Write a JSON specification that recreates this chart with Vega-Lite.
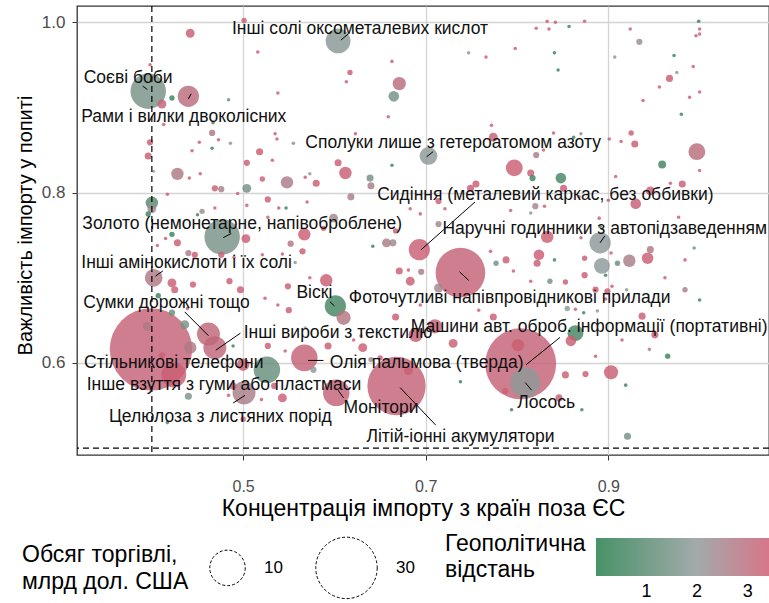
{
 "$schema": "https://vega.github.io/schema/vega-lite/v6.json",
 "width": 692, "height": 449,
 "autosize": {"type": "none"},
 "padding": {"left": 77, "top": 6, "right": 0, "bottom": 148},
 "background": "white",
 "config": {
  "font": "Liberation Sans",
  "view": {"stroke": "#333333", "strokeWidth": 1.3},
  "axis": {"domain": false, "grid": true, "gridColor": "#d4d4d4", "gridWidth": 1.3, "tickColor": "#333333", "tickSize": 5, "labelColor": "#4d4d4d", "labelFontSize": 16, "titleFontSize": 20, "titleFontWeight": "normal", "titleColor": "#000000", "titleFont": "Liberation Sans", "labelFont": "Liberation Sans"}
 },
 "datasets": {
  "pts": [
   {"x":0.604,"y":0.978,"v":4.9,"g":1.9},{"x":0.396,"y":0.919,"v":10,"g":1.6},{"x":0.440,"y":0.913,"v":3.6,"g":3.0},{"x":0.477,"y":0.748,"v":10,"g":1.6},{"x":0.703,"y":0.843,"v":2.5,"g":2.0},{"x":0.693,"y":0.733,"v":3.6,"g":3.3},{"x":0.891,"y":0.741,"v":3.6,"g":2.0},{"x":0.738,"y":0.706,"v":19.6,"g":3.2},{"x":0.804,"y":0.599,"v":40,"g":3.2},{"x":0.809,"y":0.577,"v":7.2,"g":2.0},{"x":0.668,"y":0.573,"v":27,"g":3.2},{"x":0.602,"y":0.565,"v":5.6,"g":3.2},{"x":0.567,"y":0.606,"v":5.6,"g":3.2},{"x":0.601,"y":0.667,"v":3.6,"g":0.7},{"x":0.469,"y":0.618,"v":4.2,"g":3.1},{"x":0.462,"y":0.634,"v":4.2,"g":3.1},{"x":0.399,"y":0.616,"v":54,"g":3.2},{"x":0.501,"y":0.565,"v":4.2,"g":2.6},{"x":0.402,"y":0.700,"v":2.5,"g":2.7},{"x":0.424,"y":0.586,"v":4.9,"g":3.3},
   {"x":0.501,"y":1.002,"v":0.23,"g":3.3},{"x":0.442,"y":0.987,"v":0.63,"g":3.3},{"x":0.516,"y":0.965,"v":0.1,"g":3.3},{"x":0.398,"y":0.950,"v":0.1,"g":3.3},{"x":0.411,"y":0.904,"v":0.63,"g":3.2},{"x":0.422,"y":0.911,"v":0.23,"g":0.5},{"x":0.484,"y":0.909,"v":0.1,"g":1.4},{"x":0.538,"y":0.917,"v":0.1,"g":3.3},{"x":0.413,"y":0.880,"v":0.1,"g":3.3},{"x":0.467,"y":0.882,"v":0.1,"g":0.5},{"x":0.466,"y":0.870,"v":0.31,"g":2.8},{"x":0.473,"y":0.862,"v":0.1,"g":3.3},{"x":0.452,"y":0.859,"v":0.1,"g":3.3},{"x":0.486,"y":0.858,"v":0.1,"g":1.9},{"x":0.466,"y":0.852,"v":0.1,"g":0.5},{"x":0.535,"y":0.869,"v":0.1,"g":3.3},{"x":0.537,"y":0.863,"v":0.1,"g":3.3},{"x":0.555,"y":0.858,"v":0.1,"g":2.5},{"x":0.398,"y":0.859,"v":0.31,"g":3.3},{"x":0.396,"y":0.843,"v":0.4,"g":3.3},{"x":0.444,"y":0.849,"v":0.1,"g":3.3},{"x":0.518,"y":0.848,"v":0.4,"g":3.3},{"x":0.504,"y":0.835,"v":0.31,"g":3.3},{"x":0.532,"y":0.838,"v":0.1,"g":3.3},{"x":0.402,"y":0.825,"v":0.06,"g":1.9},{"x":0.428,"y":0.822,"v":1.23,"g":2.7},{"x":0.441,"y":0.817,"v":0.1,"g":3.3},{"x":0.453,"y":0.822,"v":0.1,"g":3.3},{"x":0.521,"y":0.816,"v":0.23,"g":3.3},{"x":0.548,"y":0.812,"v":1.23,"g":2.6},{"x":0.568,"y":0.818,"v":0.1,"g":3.3},{"x":0.504,"y":0.805,"v":0.63,"g":1.5},{"x":0.469,"y":0.805,"v":0.31,"g":3.3},{"x":0.476,"y":0.804,"v":0.31,"g":2.5},{"x":0.494,"y":0.799,"v":0.1,"g":3.3},{"x":0.527,"y":0.792,"v":0.31,"g":3.3},{"x":0.417,"y":0.798,"v":0.1,"g":3.3},{"x":0.400,"y":0.788,"v":1.23,"g":1.0},{"x":0.400,"y":0.781,"v":0.63,"g":2.3},{"x":0.396,"y":0.775,"v":0.23,"g":0.5},{"x":0.504,"y":0.785,"v":0.1,"g":3.3},{"x":0.469,"y":0.782,"v":0.1,"g":3.3},{"x":0.455,"y":0.778,"v":0.23,"g":2.3},{"x":0.450,"y":0.774,"v":0.1,"g":0.5},{"x":0.539,"y":0.782,"v":0.1,"g":3.3},{"x":0.547,"y":0.782,"v":0.1,"g":0.5},{"x":0.527,"y":0.771,"v":0.1,"g":3.3},{"x":0.570,"y":0.789,"v":0.1,"g":3.3},{"x":0.567,"y":0.751,"v":1.23,"g":3.3},
   {"x":0.663,"y":0.954,"v":0.1,"g":3.3},{"x":0.617,"y":0.941,"v":0.23,"g":3.3},{"x":0.613,"y":0.930,"v":0.1,"g":3.3},{"x":0.671,"y":0.928,"v":1.4,"g":3.0},{"x":0.665,"y":0.913,"v":0.9,"g":1.5},{"x":0.659,"y":0.889,"v":0.1,"g":3.3},{"x":0.821,"y":0.993,"v":0.1,"g":3.3},{"x":0.798,"y":0.969,"v":0.1,"g":3.3},{"x":0.766,"y":0.959,"v":0.1,"g":3.3},{"x":0.747,"y":0.964,"v":0.1,"g":2.0},{"x":0.772,"y":0.879,"v":0.1,"g":3.3},{"x":0.774,"y":0.865,"v":0.63,"g":3.2},{"x":0.623,"y":0.869,"v":0.1,"g":3.3},{"x":0.604,"y":0.835,"v":0.4,"g":3.3},{"x":0.612,"y":0.823,"v":1.23,"g":3.3},{"x":0.663,"y":0.832,"v":0.1,"g":0.5},{"x":0.573,"y":0.822,"v":0.1,"g":2.0},{"x":0.580,"y":0.811,"v":0.4,"g":3.3},{"x":0.639,"y":0.817,"v":0.4,"g":1.5},{"x":0.640,"y":0.808,"v":0.4,"g":2.6},{"x":0.797,"y":0.829,"v":2.26,"g":3.3},{"x":0.815,"y":0.823,"v":0.4,"g":3.3},{"x":0.817,"y":0.817,"v":0.31,"g":0.5},{"x":0.821,"y":0.844,"v":0.31,"g":2.6},{"x":0.755,"y":0.810,"v":0.4,"g":3.3},{"x":0.749,"y":0.805,"v":0.4,"g":3.3},{"x":0.618,"y":0.795,"v":0.4,"g":2.6},{"x":0.714,"y":0.790,"v":0.31,"g":3.3},{"x":0.683,"y":0.781,"v":0.1,"g":3.3},{"x":0.694,"y":0.775,"v":0.1,"g":3.3},{"x":0.721,"y":0.781,"v":0.1,"g":3.3},{"x":0.599,"y":0.770,"v":0.63,"g":2.4},{"x":0.588,"y":0.758,"v":0.23,"g":3.3},{"x":0.667,"y":0.755,"v":0.23,"g":3.3},{"x":0.714,"y":0.763,"v":0.31,"g":2.4},{"x":0.820,"y":0.784,"v":0.31,"g":2.5},{"x":0.815,"y":0.776,"v":0.1,"g":2.0},{"x":0.793,"y":0.779,"v":0.1,"g":3.3},
   {"x":0.833,"y":1.001,"v":0.1,"g":3.3},{"x":0.842,"y":1.000,"v":0.1,"g":3.3},{"x":0.835,"y":0.992,"v":0.1,"g":3.3},{"x":0.857,"y":0.995,"v":0.1,"g":0.5},{"x":0.874,"y":1.001,"v":0.1,"g":3.3},{"x":0.841,"y":0.964,"v":0.1,"g":0.5},{"x":0.845,"y":0.944,"v":0.1,"g":0.5},{"x":0.924,"y":0.992,"v":0.1,"g":3.3},{"x":0.934,"y":0.977,"v":0.31,"g":2.3},{"x":0.907,"y":0.959,"v":0.1,"g":2.0},{"x":0.999,"y":1.001,"v":0.1,"g":0.5},{"x":1.000,"y":0.992,"v":0.1,"g":3.3},{"x":1.000,"y":0.986,"v":0.1,"g":3.3},{"x":0.996,"y":0.984,"v":0.1,"g":3.3},{"x":0.972,"y":0.961,"v":0.1,"g":0.5},{"x":0.993,"y":0.948,"v":0.1,"g":3.3},{"x":0.975,"y":0.941,"v":0.1,"g":2.0},{"x":0.967,"y":0.934,"v":0.4,"g":3.3},{"x":0.956,"y":0.924,"v":0.1,"g":3.3},{"x":0.938,"y":0.908,"v":0.1,"g":3.3},{"x":0.989,"y":0.912,"v":0.1,"g":3.3},{"x":1.000,"y":0.918,"v":0.1,"g":3.3},{"x":0.980,"y":0.892,"v":0.1,"g":0.5},{"x":0.840,"y":0.870,"v":0.1,"g":3.3},{"x":0.870,"y":0.869,"v":0.1,"g":2.4},{"x":0.862,"y":0.865,"v":0.1,"g":0.5},{"x":0.901,"y":0.863,"v":0.1,"g":3.3},{"x":0.914,"y":0.860,"v":0.1,"g":3.3},{"x":0.925,"y":0.870,"v":0.23,"g":3.3},{"x":0.929,"y":0.857,"v":0.4,"g":3.3},{"x":0.997,"y":0.848,"v":2.26,"g":3.0},{"x":1.000,"y":0.826,"v":0.1,"g":3.3},{"x":0.959,"y":0.833,"v":0.5,"g":0.6},{"x":0.829,"y":0.850,"v":0.1,"g":3.3},{"x":0.848,"y":0.817,"v":0.9,"g":0.7},{"x":0.851,"y":0.805,"v":0.4,"g":3.3},{"x":0.908,"y":0.819,"v":0.1,"g":3.3},{"x":0.968,"y":0.811,"v":0.1,"g":3.3},{"x":0.981,"y":0.810,"v":0.4,"g":3.3},{"x":0.946,"y":0.802,"v":0.63,"g":3.3},{"x":0.930,"y":0.787,"v":0.9,"g":3.3},{"x":0.830,"y":0.784,"v":0.1,"g":3.3},{"x":0.868,"y":0.795,"v":0.1,"g":3.3},{"x":0.900,"y":0.791,"v":0.1,"g":3.3},{"x":0.890,"y":0.770,"v":0.1,"g":3.3},{"x":0.977,"y":0.771,"v":0.1,"g":3.3},{"x":0.891,"y":0.760,"v":0.1,"g":0.5},
   {"x":0.422,"y":0.751,"v":0.23,"g":0.5},{"x":0.428,"y":0.741,"v":0.4,"g":3.3},{"x":0.415,"y":0.746,"v":0.1,"g":3.3},{"x":0.406,"y":0.738,"v":0.1,"g":3.3},{"x":0.503,"y":0.746,"v":0.63,"g":3.3},{"x":0.440,"y":0.729,"v":0.31,"g":2.6},{"x":0.447,"y":0.727,"v":0.31,"g":3.3},{"x":0.476,"y":0.727,"v":0.31,"g":3.3},{"x":0.490,"y":0.724,"v":0.1,"g":3.3},{"x":0.521,"y":0.727,"v":0.1,"g":3.3},{"x":0.543,"y":0.728,"v":0.1,"g":3.3},{"x":0.552,"y":0.740,"v":0.31,"g":2.8},{"x":0.565,"y":0.731,"v":0.31,"g":3.3},{"x":0.557,"y":0.718,"v":0.1,"g":2.0},{"x":0.422,"y":0.694,"v":0.63,"g":3.3},{"x":0.425,"y":0.686,"v":0.4,"g":3.3},{"x":0.445,"y":0.692,"v":0.31,"g":3.3},{"x":0.485,"y":0.696,"v":0.31,"g":3.3},{"x":0.497,"y":0.686,"v":0.4,"g":3.3},{"x":0.407,"y":0.679,"v":0.23,"g":0.5},{"x":0.422,"y":0.659,"v":0.31,"g":1.3},{"x":0.436,"y":0.645,"v":0.63,"g":1.6},{"x":0.549,"y":0.690,"v":0.31,"g":3.3},{"x":0.524,"y":0.676,"v":0.1,"g":3.3},{"x":0.538,"y":0.668,"v":0.1,"g":3.3},{"x":0.550,"y":0.662,"v":0.31,"g":3.3},{"x":0.439,"y":0.664,"v":0.1,"g":3.3},{"x":0.442,"y":0.618,"v":1.23,"g":2.7},{"x":0.395,"y":0.643,"v":0.63,"g":2.7},{"x":0.411,"y":0.609,"v":0.31,"g":3.3},{"x":0.500,"y":0.598,"v":1.23,"g":3.3},{"x":0.526,"y":0.592,"v":5.6,"g":1.3},{"x":0.440,"y":0.561,"v":0.4,"g":1.7},{"x":0.417,"y":0.530,"v":0.1,"g":0.5},{"x":0.489,"y":0.573,"v":0.4,"g":3.3},{"x":0.543,"y":0.559,"v":0.63,"g":3.3},{"x":0.534,"y":0.573,"v":0.31,"g":3.3},{"x":0.527,"y":0.620,"v":0.31,"g":3.3},{"x":0.546,"y":0.614,"v":0.1,"g":3.3},{"x":0.489,"y":0.620,"v":0.1,"g":0.5},{"x":0.500,"y":0.534,"v":0.23,"g":3.3},{"x":0.520,"y":0.557,"v":0.1,"g":3.3},{"x":0.484,"y":0.562,"v":0.1,"g":3.3},
   {"x":0.657,"y":0.741,"v":0.63,"g":2.6},{"x":0.664,"y":0.741,"v":0.4,"g":2.4},{"x":0.642,"y":0.737,"v":0.1,"g":0.5},{"x":0.671,"y":0.708,"v":0.4,"g":3.3},{"x":0.683,"y":0.696,"v":0.63,"g":3.3},{"x":0.695,"y":0.707,"v":0.31,"g":2.6},{"x":0.681,"y":0.709,"v":0.1,"g":3.3},{"x":0.591,"y":0.697,"v":1.23,"g":3.3},{"x":0.573,"y":0.700,"v":0.1,"g":3.3},{"x":0.714,"y":0.688,"v":0.63,"g":2.4},{"x":0.777,"y":0.717,"v":0.23,"g":1.5},{"x":0.788,"y":0.721,"v":0.4,"g":3.3},{"x":0.796,"y":0.708,"v":0.1,"g":3.3},{"x":0.771,"y":0.731,"v":0.1,"g":3.3},{"x":0.815,"y":0.696,"v":0.1,"g":3.3},{"x":0.610,"y":0.653,"v":1.6,"g":2.8},{"x":0.667,"y":0.654,"v":0.4,"g":3.3},{"x":0.694,"y":0.668,"v":0.1,"g":3.3},{"x":0.689,"y":0.633,"v":1.6,"g":3.3},{"x":0.710,"y":0.643,"v":1.6,"g":3.3},{"x":0.730,"y":0.623,"v":0.63,"g":3.3},{"x":0.774,"y":0.654,"v":0.4,"g":3.3},{"x":0.758,"y":0.662,"v":0.1,"g":3.3},{"x":0.593,"y":0.620,"v":0.4,"g":3.3},{"x":0.631,"y":0.618,"v":0.63,"g":3.3},{"x":0.629,"y":0.632,"v":0.1,"g":3.3},{"x":0.621,"y":0.627,"v":0.1,"g":3.3},{"x":0.568,"y":0.641,"v":0.1,"g":2.0},{"x":0.577,"y":0.592,"v":0.31,"g":2.0},{"x":0.640,"y":0.604,"v":0.23,"g":2.3},{"x":0.650,"y":0.606,"v":0.23,"g":3.3},{"x":0.681,"y":0.591,"v":0.63,"g":3.3},{"x":0.801,"y":0.621,"v":1.23,"g":3.3},{"x":0.738,"y":0.578,"v":0.1,"g":0.5},{"x":0.794,"y":0.545,"v":0.1,"g":0.5},{"x":0.787,"y":0.567,"v":0.31,"g":3.3},
   {"x":0.893,"y":0.714,"v":2.0,"g":2.0},{"x":0.833,"y":0.748,"v":1.23,"g":3.3},{"x":0.870,"y":0.747,"v":0.1,"g":3.3},{"x":0.903,"y":0.729,"v":0.1,"g":3.3},{"x":0.824,"y":0.727,"v":0.9,"g":3.3},{"x":0.822,"y":0.717,"v":0.4,"g":3.3},{"x":0.841,"y":0.721,"v":0.1,"g":0.5},{"x":0.874,"y":0.723,"v":0.23,"g":3.3},{"x":0.910,"y":0.717,"v":0.23,"g":1.3},{"x":0.923,"y":0.720,"v":1.23,"g":2.6},{"x":0.943,"y":0.723,"v":1.06,"g":3.3},{"x":0.946,"y":0.733,"v":0.4,"g":2.7},{"x":0.994,"y":0.735,"v":0.1,"g":1.5},{"x":0.984,"y":0.721,"v":0.1,"g":3.3},{"x":0.874,"y":0.703,"v":0.31,"g":3.3},{"x":0.836,"y":0.696,"v":0.23,"g":1.5},{"x":0.853,"y":0.695,"v":0.23,"g":3.3},{"x":0.897,"y":0.703,"v":0.1,"g":0.5},{"x":0.962,"y":0.700,"v":0.1,"g":3.3},{"x":0.886,"y":0.686,"v":0.31,"g":3.3},{"x":0.899,"y":0.684,"v":0.31,"g":3.3},{"x":0.904,"y":0.690,"v":0.1,"g":3.3},{"x":0.920,"y":0.686,"v":0.1,"g":2.0},{"x":0.984,"y":0.686,"v":0.23,"g":2.6},{"x":1.000,"y":0.674,"v":0.1,"g":0.5},{"x":0.897,"y":0.675,"v":0.1,"g":3.3},{"x":0.855,"y":0.664,"v":0.23,"g":2.0},{"x":0.864,"y":0.663,"v":0.1,"g":3.3},{"x":0.873,"y":0.659,"v":0.1,"g":0.5},{"x":0.888,"y":0.661,"v":0.1,"g":2.0},{"x":0.937,"y":0.655,"v":0.4,"g":3.3},{"x":0.951,"y":0.633,"v":0.4,"g":3.3},{"x":0.915,"y":0.627,"v":0.1,"g":3.3},{"x":0.945,"y":0.616,"v":0.1,"g":2.6},{"x":0.965,"y":0.608,"v":0.23,"g":0.5},{"x":0.886,"y":0.608,"v":0.1,"g":3.3},{"x":0.864,"y":0.635,"v":2.0,"g":0.7},{"x":0.859,"y":0.626,"v":0.9,"g":3.3},{"x":0.853,"y":0.586,"v":0.4,"g":3.3},{"x":0.875,"y":0.587,"v":0.31,"g":3.3},{"x":0.903,"y":0.589,"v":1.6,"g":3.3},{"x":0.919,"y":0.574,"v":0.1,"g":0.5},{"x":0.871,"y":0.545,"v":0.1,"g":0.5},{"x":0.846,"y":0.559,"v":0.4,"g":3.3},{"x":0.921,"y":0.514,"v":0.4,"g":1.5}
  ],
  "labels": [
   {"name":"Інші солі оксометалевих кислот","lx":0.628,"ly":0.992},
   {"name":"Соєві боби","lx":0.374,"ly":0.935},
   {"name":"Рами і вилки двоколісних","lx":0.435,"ly":0.889},
   {"name":"Золото (немонетарне, напівоброблене)","lx":0.499,"ly":0.763},
   {"name":"Сполуки лише з гетероатомом азоту","lx":0.730,"ly":0.858},
   {"name":"Сидіння (металевий каркас, без оббивки)","lx":0.831,"ly":0.797},
   {"name":"Наручні годинники з автопідзаведенням","lx":0.896,"ly":0.757},
   {"name":"Фоточутливі напівпровідникові прилади","lx":0.792,"ly":0.676},
   {"name":"Машини авт. оброб. інформації (портативні)","lx":0.879,"ly":0.642},
   {"name":"Лосось","lx":0.832,"ly":0.553},
   {"name":"Літій-іонні акумулятори","lx":0.738,"ly":0.513},
   {"name":"Монітори","lx":0.651,"ly":0.547},
   {"name":"Олія пальмова (тверда)","lx":0.701,"ly":0.600},
   {"name":"Віскі","lx":0.578,"ly":0.682},
   {"name":"Інші вироби з текстилю","lx":0.604,"ly":0.635},
   {"name":"Сумки дорожні тощо","lx":0.416,"ly":0.670},
   {"name":"Стільникові телефони","lx":0.424,"ly":0.600},
   {"name":"Целюлоза з листяних порід","lx":0.475,"ly":0.537},
   {"name":"Інші амінокислоти і їх солі","lx":0.438,"ly":0.717},
   {"name":"Інше взуття з гуми або пластмаси","lx":0.479,"ly":0.574}
  ],
  "leaders": [
   {"x1":0.607,"y1":0.979,"x2":0.615,"y2":0.986},
   {"x1":0.390,"y1":0.925,"x2":0.395,"y2":0.921},
   {"x1":0.440,"y1":0.910,"x2":0.443,"y2":0.916},
   {"x1":0.478,"y1":0.747,"x2":0.487,"y2":0.752},
   {"x1":0.701,"y1":0.842,"x2":0.708,"y2":0.848},
   {"x1":0.695,"y1":0.733,"x2":0.754,"y2":0.789},
   {"x1":0.891,"y1":0.741,"x2":0.896,"y2":0.749},
   {"x1":0.737,"y1":0.707,"x2":0.747,"y2":0.697},
   {"x1":0.810,"y1":0.598,"x2":0.847,"y2":0.630},
   {"x1":0.809,"y1":0.577,"x2":0.816,"y2":0.568},
   {"x1":0.672,"y1":0.571,"x2":0.711,"y2":0.527},
   {"x1":0.604,"y1":0.568,"x2":0.610,"y2":0.559},
   {"x1":0.571,"y1":0.603,"x2":0.588,"y2":0.603},
   {"x1":0.595,"y1":0.672,"x2":0.600,"y2":0.667},
   {"x1":0.470,"y1":0.615,"x2":0.497,"y2":0.635},
   {"x1":0.462,"y1":0.632,"x2":0.436,"y2":0.660},
   {"x1":0.502,"y1":0.562,"x2":0.489,"y2":0.553},
   {"x1":0.404,"y1":0.702,"x2":0.412,"y2":0.708}
  ],
  "refx": [{"x": 0.4}],
  "refy": [{"y": 0.5}]
 },
 "layer": [
  {
   "data": {"name": "pts"},
   "mark": {"type": "circle", "opacity": 0.82, "clip": true},
   "encoding": {
    "x": {"field": "x", "type": "quantitative", "scale": {"domain": [0.318, 1.076], "nice": false, "zero": false},
          "axis": {"values": [0.5, 0.7, 0.9], "format": ".1f", "title": "Концентрація імпорту з країн поза ЄС", "titleFontSize": 23, "labelPadding": 18, "titleY": 53, "titleBaseline": "middle", "titleAnchor": "middle", "titleAlign": "center"}},
    "y": {"field": "y", "type": "quantitative", "scale": {"domain": [0.492, 1.019], "nice": false, "zero": false},
          "axis": {"values": [0.6, 0.8, 1.0], "format": ".1f", "title": "Важливість імпорту у попиті", "labelFontSize": 17, "labelPadding": 7, "titleX": -52, "titleY": 219, "titleAngle": 270, "titleBaseline": "middle", "titleAnchor": "middle", "titleAlign": "center"}},
    "size": {"field": "v", "type": "quantitative", "scale": {"domain": [0, 10], "range": [0, 1257], "zero": true},
             "legend": {"values": [10, 30], "orient": "none", "legendX": -55, "legendY": 530, "direction": "horizontal",
                        "title": ["Обсяг торгівлі,", "млрд дол. США"], "titleOrient": "left", "titleFontSize": 23, "titleFontWeight": "normal", "titleColor": "#000000", "titleLineHeight": 27, "titlePadding": 20,
                        "labelFontSize": 17, "labelColor": "#000000", "labelOffset": 18, "columnPadding": 30,
                        "symbolFillColor": "transparent", "symbolStrokeColor": "#000000", "symbolDash": [3, 2], "symbolStrokeWidth": 1, "symbolOpacity": 1,
                        "encode": {"symbols": {"update": {"fill": {"value": "transparent"}, "stroke": {"value": "#000000"}, "strokeDash": {"value": [3, 2]}, "opacity": {"value": 1}}}}}},
    "color": {"field": "g", "type": "quantitative", "scale": {"domain": [0, 2, 3.6], "range": ["#1f7a46", "#8e9898", "#d6506a"], "interpolate": "rgb"},
              "legend": {"orient": "none", "legendX": 368, "legendY": 532, "direction": "horizontal", "values": [1, 2, 3],
                         "title": ["Геополітична", "відстань"], "titleOrient": "left", "titleFontSize": 23, "titleFontWeight": "normal", "titleColor": "#000000", "titleLineHeight": 26, "titlePadding": 10,
                         "gradientLength": 182, "gradientThickness": 38, "gradientStrokeWidth": 0, "labelFontSize": 18, "labelColor": "#000000", "labelOffset": 7}},
    "order": {"field": "v", "sort": "descending"}
   }
  },
  {
   "data": {"name": "refx"},
   "mark": {"type": "rule", "strokeDash": [6, 4], "color": "#000000", "strokeWidth": 1.2},
   "encoding": {"x": {"field": "x", "type": "quantitative"}}
  },
  {
   "data": {"name": "refy"},
   "mark": {"type": "rule", "strokeDash": [6, 4], "color": "#000000", "strokeWidth": 1.2},
   "encoding": {"y": {"field": "y", "type": "quantitative"}}
  },
  {
   "data": {"name": "leaders"},
   "mark": {"type": "rule", "color": "#000000", "strokeWidth": 1},
   "encoding": {
    "x": {"field": "x1", "type": "quantitative"}, "y": {"field": "y1", "type": "quantitative"},
    "x2": {"field": "x2"}, "y2": {"field": "y2"}
   }
  },
  {
   "data": {"name": "labels"},
   "mark": {"type": "text", "fontSize": 17.5, "color": "#111111", "align": "center", "baseline": "middle", "font": "Liberation Sans"},
   "encoding": {
    "x": {"field": "lx", "type": "quantitative"}, "y": {"field": "ly", "type": "quantitative"},
    "text": {"field": "name"}
   }
  }
 ]
}
